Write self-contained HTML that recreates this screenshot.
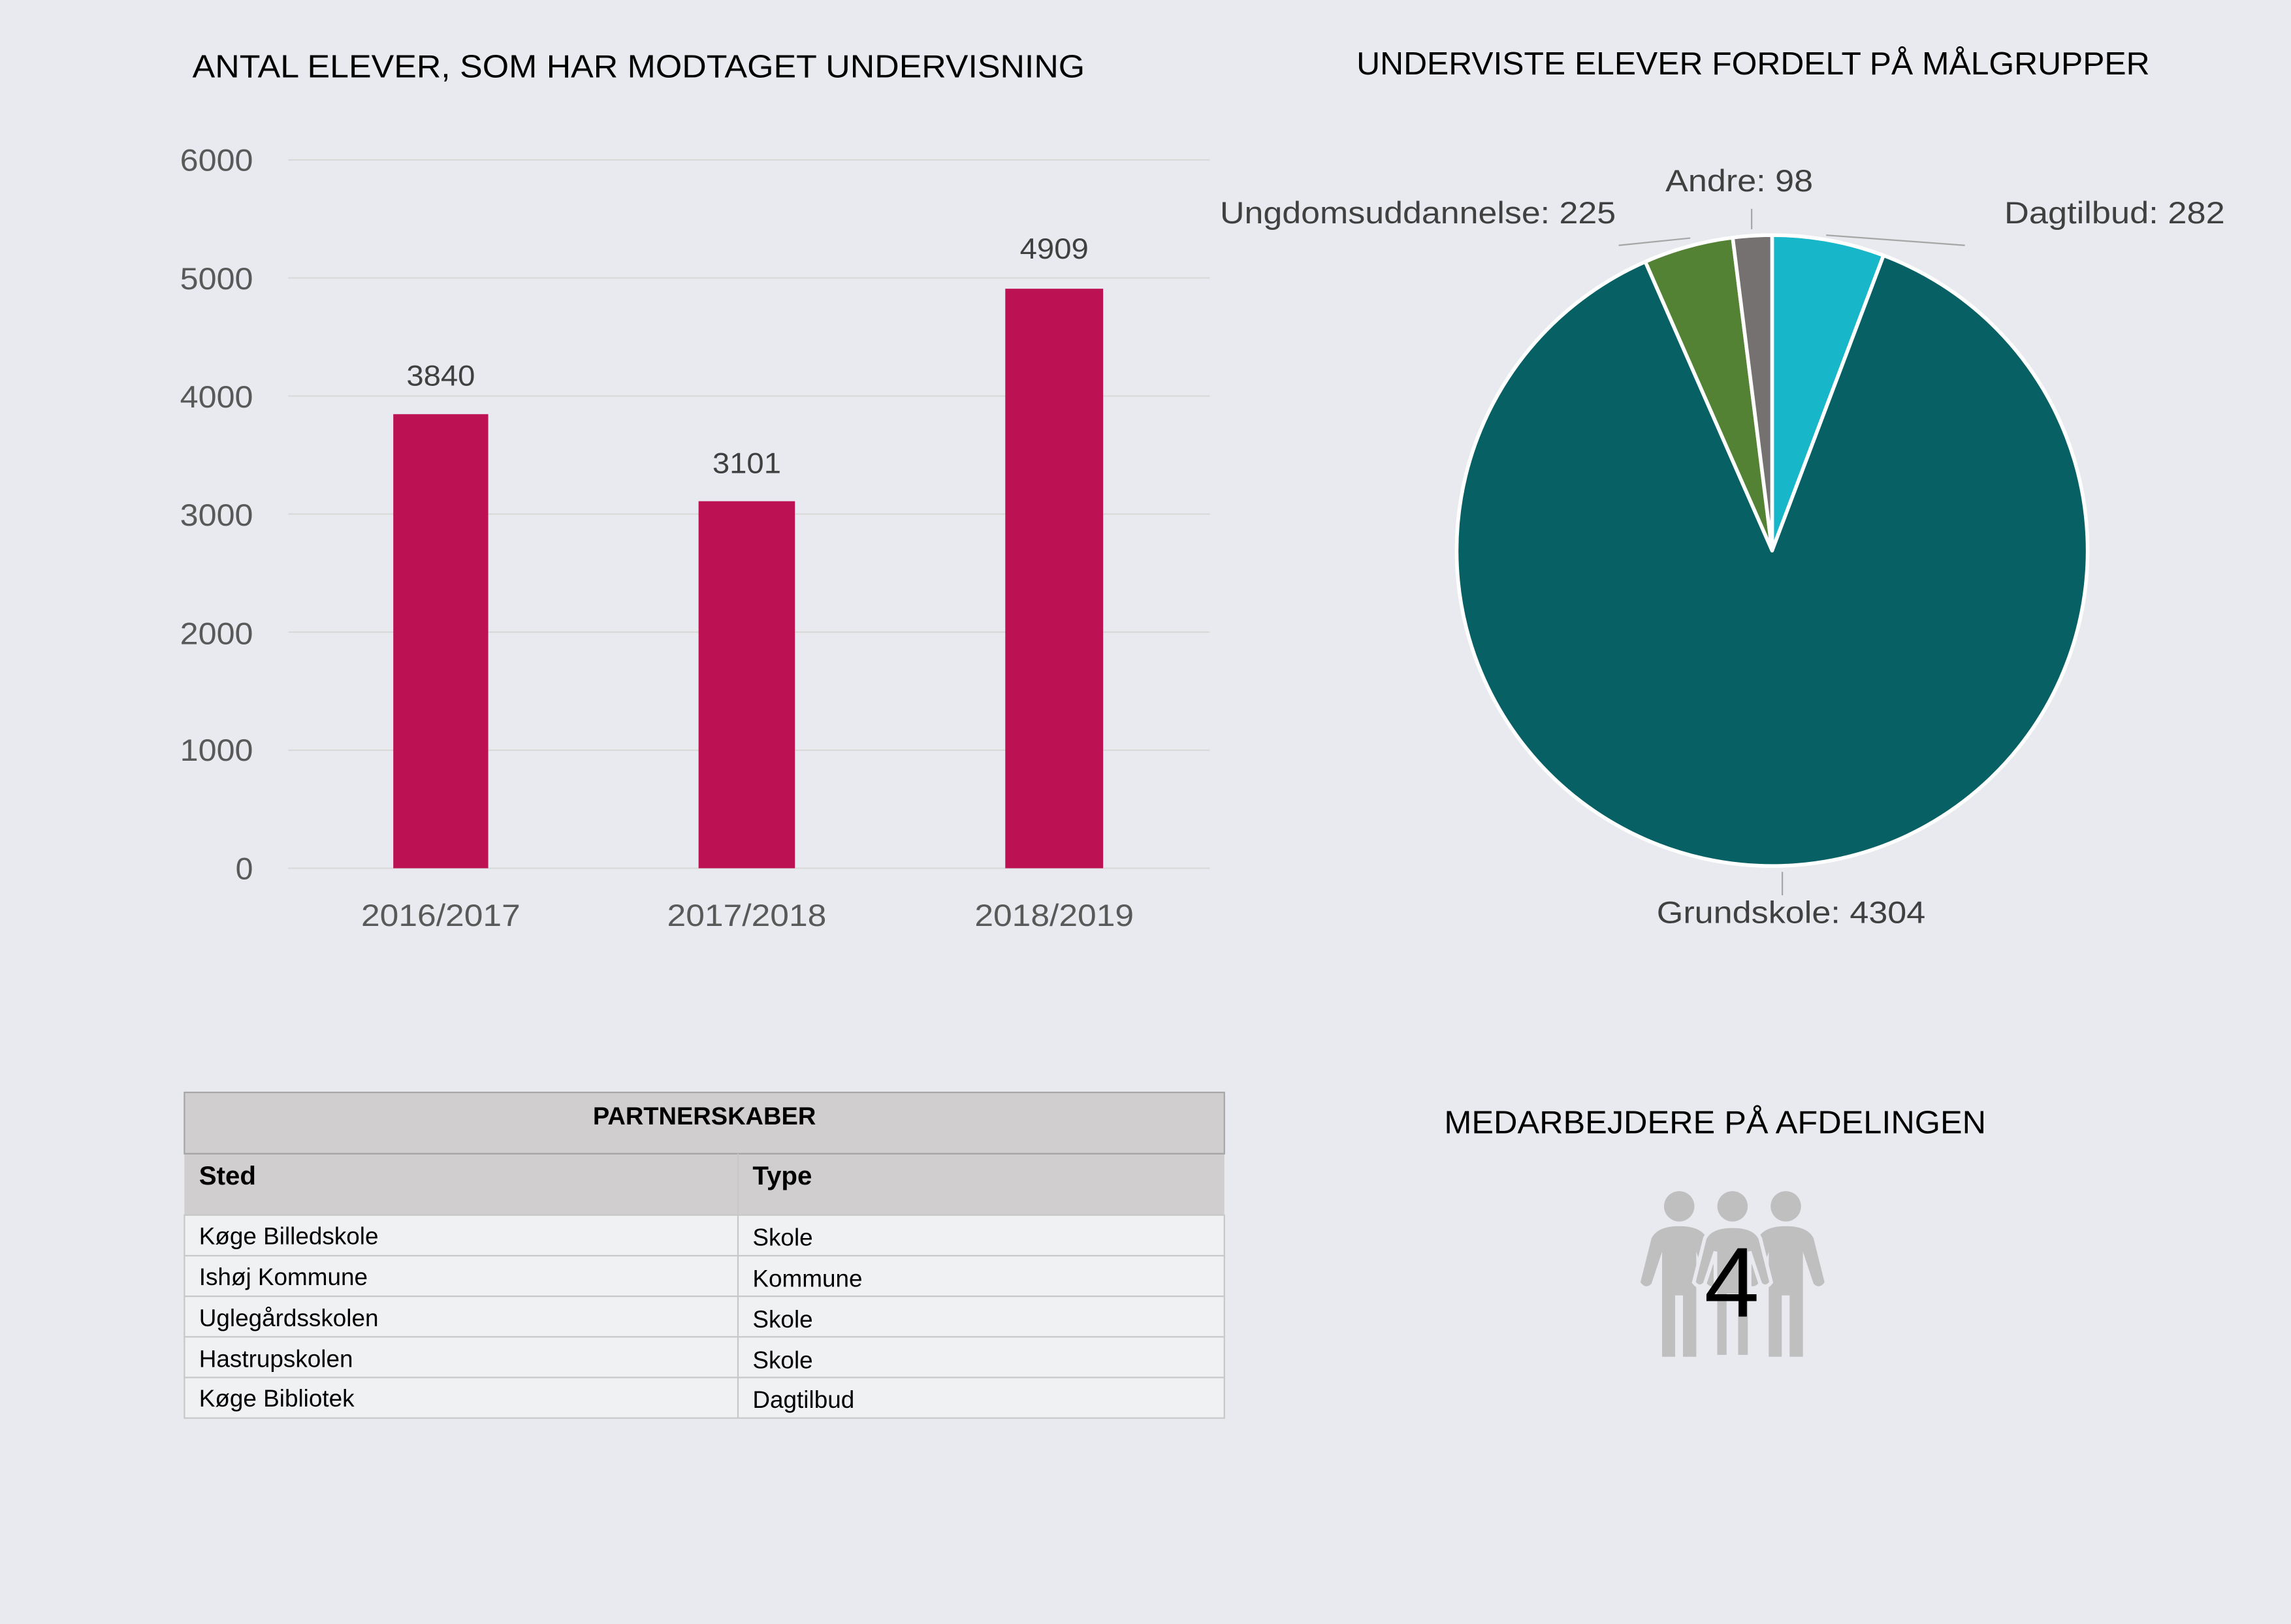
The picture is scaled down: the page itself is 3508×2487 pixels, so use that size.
<!DOCTYPE html>
<html><head><meta charset="utf-8"><style>
html,body{margin:0;padding:0;background:#E9EAEF;}
svg{display:block;}
text{font-family:"Liberation Sans",sans-serif;}
</style></head><body>
<svg width="3508" height="2487" viewBox="0 0 1568 1112" xmlns="http://www.w3.org/2000/svg">
<rect width="1568" height="1112" fill="#E9EAEF"/>
<!-- Bar chart -->
<text x="437" y="53" font-size="22" text-anchor="middle" fill="#000" textLength="611" lengthAdjust="spacingAndGlyphs">ANTAL ELEVER, SOM HAR MODTAGET UNDERVISNING</text>
<g stroke="#D9D9D9" stroke-width="1">
<line x1="197" y1="109.5" x2="828" y2="109.5"/>
<line x1="197" y1="190.3" x2="828" y2="190.3"/>
<line x1="197" y1="271.2" x2="828" y2="271.2"/>
<line x1="197" y1="352" x2="828" y2="352"/>
<line x1="197" y1="432.8" x2="828" y2="432.8"/>
<line x1="197" y1="513.7" x2="828" y2="513.7"/>
<line x1="197" y1="594.5" x2="828" y2="594.5"/>
</g>
<g font-size="21" fill="#595959" text-anchor="end">
<text x="173" y="117" textLength="50" lengthAdjust="spacingAndGlyphs">6000</text>
<text x="173" y="198" textLength="50" lengthAdjust="spacingAndGlyphs">5000</text>
<text x="173" y="279" textLength="50" lengthAdjust="spacingAndGlyphs">4000</text>
<text x="173" y="360" textLength="50" lengthAdjust="spacingAndGlyphs">3000</text>
<text x="173" y="441" textLength="50" lengthAdjust="spacingAndGlyphs">2000</text>
<text x="173" y="521" textLength="50" lengthAdjust="spacingAndGlyphs">1000</text>
<text x="173" y="602" textLength="12" lengthAdjust="spacingAndGlyphs">0</text>
</g>
<g fill="#BC1254">
<rect x="269" y="283.6" width="65" height="310.9"/>
<rect x="478" y="343.2" width="66" height="251.3"/>
<rect x="688" y="197.7" width="67" height="396.8"/>
</g>
<g font-size="20" fill="#404040" text-anchor="middle">
<text x="301.5" y="264" textLength="47" lengthAdjust="spacingAndGlyphs">3840</text>
<text x="511" y="324" textLength="47" lengthAdjust="spacingAndGlyphs">3101</text>
<text x="721.5" y="177" textLength="47" lengthAdjust="spacingAndGlyphs">4909</text>
</g>
<g font-size="21" fill="#595959" text-anchor="middle">
<text x="301.5" y="634" textLength="109" lengthAdjust="spacingAndGlyphs">2016/2017</text>
<text x="511" y="634" textLength="109" lengthAdjust="spacingAndGlyphs">2017/2018</text>
<text x="721.5" y="634" textLength="109" lengthAdjust="spacingAndGlyphs">2018/2019</text>
</g>
<!-- Pie -->
<text x="1200" y="51" font-size="22" text-anchor="middle" fill="#000" textLength="543" lengthAdjust="spacingAndGlyphs">UNDERVISTE ELEVER FORDELT PÅ MÅLGRUPPER</text>
<g stroke="#fff" stroke-width="2.5" stroke-linejoin="round">
<path d="M1213 377 L1213 161 A216 216 0 0 1 1289.3 174.9 Z" fill="#17B6C9"/>
<path d="M1213 377 L1289.3 174.9 A216 216 0 1 1 1126.2 179.2 Z" fill="#066064"/>
<path d="M1213 377 L1126.2 179.2 A216 216 0 0 1 1186.0 162.7 Z" fill="#548235"/>
<path d="M1213 377 L1186.0 162.7 A216 216 0 0 1 1213 161 Z" fill="#767171"/>
</g>
<g stroke="#A6A6A6" stroke-width="1" fill="none">
<polyline points="1250,161 1345,168"/>
<polyline points="1157,163 1108,168"/>
<polyline points="1199,157 1199,143"/>
<polyline points="1220,597 1220,613"/>
</g>
<g font-size="21" fill="#404040">
<text x="1372" y="153" textLength="151" lengthAdjust="spacingAndGlyphs">Dagtilbud: 282</text>
<text x="835" y="153" textLength="271" lengthAdjust="spacingAndGlyphs">Ungdomsuddannelse: 225</text>
<text x="1140" y="131" textLength="101" lengthAdjust="spacingAndGlyphs">Andre: 98</text>
<text x="1134" y="632" textLength="184" lengthAdjust="spacingAndGlyphs">Grundskole: 4304</text>
</g>
<!-- Table -->
<rect x="126" y="748" width="712" height="84" fill="#D0CECE"/>
<line x1="126" y1="790" x2="838" y2="790" stroke="#A6A6A6" stroke-width="1"/>
<rect x="126" y="748" width="712" height="42" fill="none" stroke="#A6A6A6" stroke-width="1"/>
<rect x="126" y="832" width="712" height="139" fill="#F0F1F3" stroke="#C8C8C8" stroke-width="1"/>
<g stroke="#C8C8C8" stroke-width="1">
<line x1="126" y1="859.8" x2="838" y2="859.8"/>
<line x1="126" y1="887.6" x2="838" y2="887.6"/>
<line x1="126" y1="915.4" x2="838" y2="915.4"/>
<line x1="126" y1="943.2" x2="838" y2="943.2"/>
<line x1="505" y1="790" x2="505" y2="971"/>
</g>
<text x="482" y="770" font-size="17" font-weight="bold" text-anchor="middle" fill="#000">PARTNERSKABER</text>
<text x="136" y="811" font-size="18" font-weight="bold" fill="#000">Sted</text>
<text x="515" y="811" font-size="18" font-weight="bold" fill="#000">Type</text>
<g font-size="16.5" fill="#000">
<text x="136" y="852">Køge Billedskole</text><text x="515" y="853">Skole</text>
<text x="136" y="880">Ishøj Kommune</text><text x="515" y="881">Kommune</text>
<text x="136" y="908">Uglegårdsskolen</text><text x="515" y="909">Skole</text>
<text x="136" y="936">Hastrupskolen</text><text x="515" y="937">Skole</text>
<text x="136" y="963">Køge Bibliotek</text><text x="515" y="964">Dagtilbud</text>
</g>
<!-- Medarbejdere -->
<text x="1174" y="776" font-size="22" text-anchor="middle" fill="#000" textLength="371" lengthAdjust="spacingAndGlyphs">MEDARBEJDERE PÅ AFDELINGEN</text>
<defs>
<path id="person" d="M -11.7 929 L -11.7 857 L -19 879 Q -23 883 -26.5 878 L -19 848 Q -15 839.6 0 839.6 Q 15 839.6 19 848 L 26.5 878 Q 23 883 19 879 L 11.7 857 L 11.7 929 L 2.6 929 L 2.6 887 L -2.8 887 L -2.8 929 Z"/>
</defs>
<g fill="#BFBFBF">
<circle cx="1149.4" cy="826" r="10.4"/>
<use href="#person" x="1149.4"/>
<circle cx="1222.4" cy="826" r="10.4"/>
<use href="#person" x="1222.4"/>
<circle cx="1185.9" cy="826" r="10.4"/>
<use href="#person" x="1185.9" stroke="#E9EAEF" stroke-width="2.5"/>
</g>
<text x="1185.4" y="901.5" font-size="68" text-anchor="middle" fill="#000">4</text>
</svg>
</body></html>
